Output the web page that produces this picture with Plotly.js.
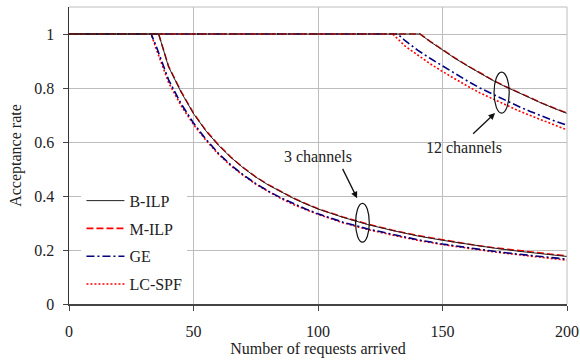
<!DOCTYPE html>
<html>
<head>
<meta charset="utf-8">
<script src="https://cdn.plot.ly/plotly-3.0.1.min.js"></script>
<style>html,body{margin:0;padding:0;background:#fff;}#chart{width:580px;height:362px;}</style>
</head>
<body>
<div id="chart"></div>
<script>
// ---- 3 channels ----
const x3_bilp = [0, 36, 40, 45, 50, 55, 60, 65, 70, 75, 80, 85, 90, 95, 100, 110, 120, 130, 140, 150, 160, 170, 180, 190, 200];
const y3_bilp = [1, 1, 0.878, 0.785, 0.705, 0.641, 0.588, 0.543, 0.504, 0.47, 0.441, 0.415, 0.392, 0.371, 0.352, 0.321, 0.294, 0.272, 0.252, 0.236, 0.221, 0.208, 0.196, 0.186, 0.176];
const x3_milp = [0, 36, 40, 45, 50, 55, 60, 65, 70, 75, 80, 85, 90, 95, 100, 110, 120, 130, 140, 150, 160, 170, 180, 190, 200];
const y3_milp = [1, 1, 0.88, 0.787, 0.707, 0.642, 0.59, 0.544, 0.505, 0.471, 0.442, 0.416, 0.393, 0.372, 0.353, 0.322, 0.296, 0.273, 0.254, 0.238, 0.222, 0.209, 0.198, 0.188, 0.178];
const x3_ge = [0, 33, 35, 40, 45, 50, 55, 60, 65, 70, 75, 80, 85, 90, 95, 100, 110, 120, 130, 140, 150, 160, 170, 180, 190, 200];
const y3_ge = [1, 1, 0.955, 0.83, 0.742, 0.67, 0.61, 0.558, 0.515, 0.478, 0.446, 0.418, 0.394, 0.372, 0.352, 0.334, 0.303, 0.278, 0.257, 0.238, 0.222, 0.208, 0.196, 0.185, 0.175, 0.166];
const x3_lcspf = [0, 33, 35, 40, 45, 50, 55, 60, 65, 70, 75, 80, 85, 90, 95, 100, 110, 120, 130, 140, 150, 160, 170, 180, 190, 200];
const y3_lcspf = [1, 1, 0.945, 0.82, 0.735, 0.665, 0.606, 0.555, 0.512, 0.476, 0.444, 0.416, 0.391, 0.369, 0.35, 0.332, 0.301, 0.276, 0.255, 0.236, 0.22, 0.206, 0.194, 0.183, 0.172, 0.162];

// ---- 12 channels ----
const x12_bilp = [0, 141, 145, 150, 155, 160, 165, 170, 175, 180, 185, 190, 195, 200];
const y12_bilp = [1, 1, 0.972, 0.94, 0.91, 0.882, 0.855, 0.829, 0.806, 0.784, 0.763, 0.743, 0.724, 0.706];
const x12_milp = [0, 141, 145, 150, 155, 160, 165, 170, 175, 180, 185, 190, 195, 200];
const y12_milp = [1, 1, 0.973, 0.941, 0.911, 0.883, 0.856, 0.83, 0.807, 0.785, 0.764, 0.744, 0.725, 0.707];
const x12_ge = [0, 132, 135, 140, 145, 150, 155, 160, 165, 170, 175, 180, 185, 190, 195, 200];
const y12_ge = [1, 1, 0.975, 0.94, 0.91, 0.882, 0.852, 0.826, 0.8, 0.777, 0.755, 0.734, 0.714, 0.695, 0.678, 0.662];
const x12_lcspf = [0, 130, 135, 140, 145, 150, 155, 160, 165, 170, 175, 180, 185, 190, 195, 200];
const y12_lcspf = [1, 1, 0.955, 0.922, 0.89, 0.861, 0.833, 0.807, 0.782, 0.76, 0.739, 0.718, 0.699, 0.68, 0.662, 0.645];

const names = ["B-ILP", "M-ILP", "GE", "LC-SPF"];
const xTicks = [0, 50, 100, 150, 200];
const yTicks = [0, 0.2, 0.4, 0.6, 0.8, 1];
const yTickText = ["0", "0.2", "0.4", "0.6", "0.8", "1"];

const styles = [
  {color: "#222222", width: 1, dash: "solid"},
  {color: "#ff0000", width: 1.6, dash: "7px,3px"},
  {color: "#000080", width: 1.6, dash: "8px,3px,2px,3px"},
  {color: "#ff0000", width: 1.6, dash: "2px,2px"}
];

const sets3 = [[x3_bilp, y3_bilp], [x3_milp, y3_milp], [x3_ge, y3_ge], [x3_lcspf, y3_lcspf]];
const sets12 = [[x12_bilp, y12_bilp], [x12_milp, y12_milp], [x12_ge, y12_ge], [x12_lcspf, y12_lcspf]];
const drawOrder = [3, 2, 1, 0];

const traces = [];
for (const i of drawOrder) {
  traces.push({x: sets3[i][0], y: sets3[i][1], name: names[i], mode: "lines", legendgroup: "g" + i, legendrank: i + 1,
    line: {color: styles[i].color, width: styles[i].width, dash: styles[i].dash}});
  traces.push({x: sets12[i][0], y: sets12[i][1], name: names[i], mode: "lines", legendgroup: "g" + i, showlegend: false,
    line: {color: styles[i].color, width: styles[i].width, dash: styles[i].dash}});
}

const font = {family: "Liberation Serif, Times New Roman, serif", size: 16, color: "#222"};

const layout = {
  width: 580, height: 362,
  margin: {l: 69, r: 13, t: 7, b: 58},
  paper_bgcolor: "#fff", plot_bgcolor: "#fff",
  font: font,
  showlegend: true,
  legend: {x: 0.025, y: 0.405, xanchor: "left", yanchor: "top", bgcolor: "rgba(255,255,255,1)",
    font: font, tracegroupgap: 4, itemwidth: 38, traceorder: "grouped"},
  xaxis: {range: [0, 200], tickvals: xTicks, ticks: "outside", ticklen: 5, tickcolor: "#444",
    showgrid: true, gridcolor: "#bdbdbd", gridwidth: 1, zeroline: false,
    showline: true, linecolor: "#444", linewidth: 2, ticklabelstandoff: 7,
    title: {text: "Number of requests arrived", font: font, standoff: 4}},
  yaxis: {range: [0, 1.1], tickvals: yTicks, ticktext: yTickText, ticks: "outside", ticklen: 5, tickcolor: "#444",
    showgrid: true, gridcolor: "#bdbdbd", gridwidth: 1, zeroline: false,
    showline: true, linecolor: "#333", linewidth: 1.5, ticklabelstandoff: 5,
    title: {text: "Acceptance rate", font: font, standoff: 8}},
  shapes: [
    {type: "line", xref: "paper", yref: "paper", x0: 0, x1: 1, y0: 1, y1: 1, line: {color: "#bdbdbd", width: 1}},
    {type: "line", xref: "paper", yref: "paper", x0: 1, x1: 1, y0: 0, y1: 1, line: {color: "#bdbdbd", width: 1}},
    {type: "circle", xref: "x", yref: "y", x0: 115.1, x1: 120.6, y0: 0.229, y1: 0.373, line: {color: "#111", width: 1.2}},
    {type: "circle", xref: "x", yref: "y", x0: 170.7, x1: 176.8, y0: 0.707, y1: 0.859, line: {color: "#111", width: 1.2}}
  ],
  annotations: [
    {x: 100, y: 0.545, xref: "x", yref: "y", text: "3 channels", showarrow: false, font: font},
    {x: 115.7, y: 0.392, ax: 109.6, ay: 0.506, axref: "x", ayref: "y", xref: "x", yref: "y", text: "",
      showarrow: true, arrowhead: 2, arrowsize: 1, arrowwidth: 1.3, arrowcolor: "#111"},
    {x: 158.6, y: 0.58, xref: "x", yref: "y", text: "12 channels", showarrow: false, font: font},
    {x: 171.1, y: 0.707, ax: 161.7, ay: 0.625, axref: "x", ayref: "y", xref: "x", yref: "y", text: "",
      showarrow: true, arrowhead: 2, arrowsize: 1, arrowwidth: 1.3, arrowcolor: "#111"}
  ]
};

Plotly.newPlot("chart", traces, layout, {displayModeBar: false, staticPlot: true});
</script>
</body>
</html>
